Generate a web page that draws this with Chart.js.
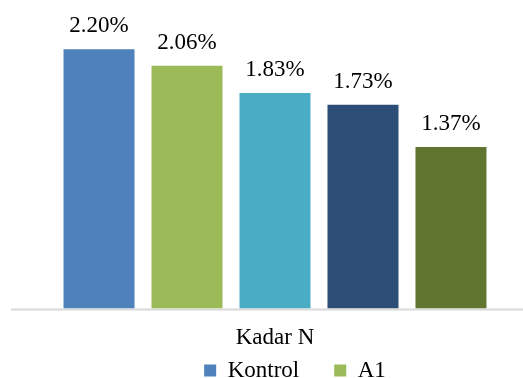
<!DOCTYPE html>
<html>
<head>
<meta charset="utf-8">
<script src="https://cdn.jsdelivr.net/npm/chart.js@4/dist/chart.umd.min.js"></script>
<style>
    html, body { margin: 0; padding: 0; background: #fff; overflow: hidden; }
    #wrap { width: 523px; height: 428px; position: relative; }
</style>
</head>
<body>
<div id="wrap"><canvas id="kadar-chart"></canvas></div>
<script>
// /---------------Data---------------/
const categories = ['Kadar N'];
const seriesNames = ['Kontrol', 'A1', 'A2', 'A3', 'A4'];
const seriesValues = [2.20, 2.06, 1.83, 1.73, 1.37];
const seriesColors = ['#4F81BD', '#9BBB59', '#4BACC6', '#2C4D75', '#5F7530'];

const fontFamily = "'Liberation Serif', 'Times New Roman', serif";
const kadarCtx = document.querySelector('#kadar-chart').getContext('2d');

// /---------------Value labels on top of bars---------------/
const valueLabels = {
    id: 'valueLabels',
    afterDatasetsDraw(chart) {
        const ctx = chart.ctx;
        ctx.save();
        ctx.font = '23px ' + fontFamily;
        ctx.fillStyle = '#000';
        ctx.textAlign = 'center';
        ctx.textBaseline = 'alphabetic';
        chart.data.datasets.forEach((ds, i) => {
            const bar = chart.getDatasetMeta(i).data[0];
            ctx.fillText(ds.data[0].toFixed(2) + '%', bar.x, bar.y - 17);
        });
        ctx.restore();
    }
};

// /---------------Baseline + legend placement like the Excel original---------------/
const excelLook = {
    id: 'excelLook',
    afterLayout(chart) {
        // legend row sits right of centre and tight under the axis label
        chart.legend.left += 40;
        chart.legend.top -= 36;
        chart.legend.bottom -= 36;
    },
    beforeDatasetsDraw(chart) {
        const ctx = chart.ctx;
        const y = chart.scales.y.getPixelForValue(0);
        ctx.save();
        ctx.strokeStyle = '#D9D9D9';
        ctx.lineWidth = 2;
        ctx.beginPath();
        ctx.moveTo(chart.chartArea.left - 16, y + 1);
        ctx.lineTo(chart.chartArea.right, y + 1);
        ctx.stroke();
        ctx.restore();
    }
};

const datasets = seriesNames.map((name, i) => ({
    label: name,
    data: [seriesValues[i]],
    backgroundColor: seriesColors[i],
    borderWidth: 0,
    categoryPercentage: 0.887,
    barPercentage: 0.807
}));

new Chart(kadarCtx, {
    type: 'bar',
    data: {
        labels: categories,
        datasets: datasets
    },
    options: {
        responsive: true,
        maintainAspectRatio: false,
        animation: false,
        layout: {
            padding: { left: 27, right: 0, top: 14, bottom: 0 }
        },
        scales: {
            y: {
                display: false,
                min: 0,
                max: 2.5
            },
            x: {
                grid: { display: false },
                border: { display: false },
                ticks: {
                    color: '#000',
                    padding: 8,
                    font: { family: fontFamily, size: 23 }
                }
            }
        },
        plugins: {
            legend: {
                position: 'bottom',
                labels: {
                    color: '#000',
                    boxWidth: 12,
                    boxHeight: 12,
                    padding: 35,
                    font: { family: fontFamily, size: 23 },
                    // only the first row of the wrapped legend is visible in the original
                    filter: item => item.datasetIndex < 2
                }
            },
            tooltip: { enabled: false }
        }
    },
    plugins: [valueLabels, excelLook]
});
</script>
</body>
</html>
